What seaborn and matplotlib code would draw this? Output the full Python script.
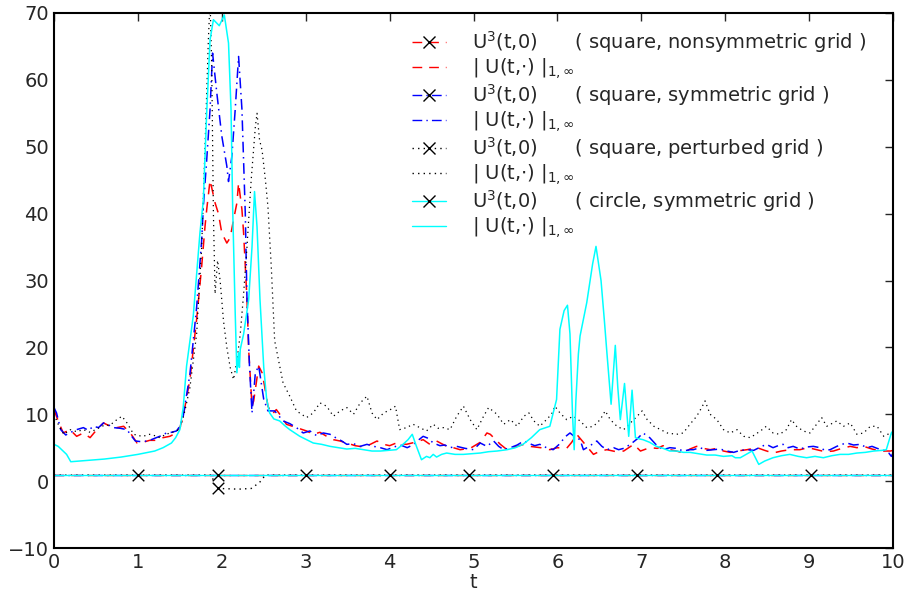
import numpy as np
import pandas as pd
import matplotlib
matplotlib.use("Agg")
import matplotlib.pyplot as plt
from matplotlib.lines import Line2D
import seaborn as sns

# |U(t,.)|_{1,inf} for each run
red_t = [0.00, 0.05, 0.11, 0.19, 0.27, 0.35, 0.43, 0.51, 0.59, 0.67, 0.75, 0.83, 0.91, 0.99,
         1.06, 1.14, 1.22, 1.30, 1.38, 1.46, 1.50, 1.54, 1.62, 1.70, 1.76, 1.80, 1.82, 1.86,
         1.92, 1.96, 2.00, 2.06, 2.10, 2.14, 2.18, 2.20, 2.24, 2.26, 2.30, 2.32, 2.36, 2.38,
         2.44, 2.48, 2.51, 2.55, 2.60, 2.65, 2.72, 2.77, 2.89, 3.01, 3.09, 3.17, 3.25, 3.33,
         3.41, 3.49, 3.59, 3.69, 3.77, 3.85, 3.93, 4.00, 4.08, 4.20, 4.30, 4.40, 4.48, 4.56,
         4.68, 4.76, 4.84, 4.96, 5.08, 5.16, 5.20, 5.28, 5.32, 5.40, 5.52, 5.60, 5.67, 5.80,
         5.91, 6.00, 6.11, 6.17, 6.23, 6.35, 6.43, 6.51, 6.59, 6.70, 6.79, 6.91, 6.99, 7.10,
         7.19, 7.26, 7.34, 7.42, 7.50, 7.58, 7.66, 7.74, 7.82, 7.90, 7.98, 8.06, 8.14, 8.26,
         8.38, 8.47, 8.57, 8.67, 8.77, 8.89, 8.99, 9.09, 9.19, 9.29, 9.39, 9.49, 9.57, 9.65,
         9.75, 9.85, 9.97, 10.00]
red_v = [10.7, 9.0, 7.2, 7.7, 6.7, 7.2, 6.5, 7.7, 8.7, 8.2, 8.0, 8.2, 7.2, 5.7,
         5.8, 6.1, 6.1, 6.5, 6.7, 7.2, 8.0, 9.7, 15.2, 24.2, 32.1, 38.1, 40.6, 45.0,
         41.6, 40.0, 37.1, 35.6, 36.4, 39.1, 41.6, 44.6, 40.6, 37.1, 27.2, 19.7, 11.2, 12.0,
         17.2, 16.2, 14.2, 11.2, 10.0, 10.7, 9.5, 8.5, 8.0, 7.5, 7.0, 7.3, 6.7, 6.2,
         6.0, 5.7, 5.3, 5.1, 5.5, 6.0, 5.5, 5.3, 5.7, 5.5, 5.8, 6.2, 5.5, 6.0,
         5.2, 5.0, 4.7, 4.9, 5.8, 7.2, 7.0, 6.0, 5.5, 4.7, 5.2, 5.5, 5.2, 5.0,
         4.7, 5.0, 4.9, 5.8, 7.0, 5.2, 4.0, 4.5, 4.7, 4.4, 4.5, 5.5, 4.5, 5.0,
         4.9, 5.3, 4.7, 4.5, 4.2, 4.8, 5.2, 4.9, 4.7, 4.9, 4.5, 4.3, 4.5, 4.7,
         5.0, 4.6, 4.2, 4.5, 4.7, 4.7, 5.0, 4.7, 4.4, 4.5, 4.9, 5.2, 5.0, 5.2,
         4.8, 4.5, 4.5, 4.6]

blue_t = [0.00, 0.03, 0.08, 0.14, 0.20, 0.27, 0.35, 0.41, 0.47, 0.53, 0.59, 0.65, 0.71, 0.79,
          0.87, 0.92, 0.97, 1.04, 1.11, 1.16, 1.22, 1.28, 1.34, 1.40, 1.46, 1.50, 1.54, 1.62,
          1.70, 1.76, 1.78, 1.82, 1.86, 1.89, 1.94, 2.00, 2.06, 2.08, 2.12, 2.16, 2.20, 2.24,
          2.28, 2.30, 2.33, 2.36, 2.40, 2.44, 2.50, 2.55, 2.63, 2.73, 2.81, 2.89, 2.97, 3.05,
          3.13, 3.21, 3.29, 3.37, 3.43, 3.49, 3.57, 3.65, 3.73, 3.81, 3.89, 3.97, 4.05, 4.13,
          4.21, 4.29, 4.35, 4.40, 4.46, 4.52, 4.60, 4.66, 4.72, 4.80, 4.90, 5.00, 5.08, 5.16,
          5.24, 5.30, 5.36, 5.44, 5.52, 5.60, 5.67, 5.73, 5.79, 5.87, 5.95, 6.03, 6.09, 6.15,
          6.21, 6.27, 6.31, 6.39, 6.47, 6.53, 6.59, 6.67, 6.73, 6.79, 6.87, 6.95, 7.02, 7.10,
          7.18, 7.26, 7.34, 7.42, 7.50, 7.58, 7.62, 7.70, 7.78, 7.86, 7.94, 8.02, 8.10, 8.18,
          8.26, 8.34, 8.42, 8.49, 8.57, 8.63, 8.69, 8.75, 8.81, 8.89, 8.97, 9.05, 9.13, 9.19,
          9.25, 9.33, 9.39, 9.45, 9.53, 9.61, 9.69, 9.75, 9.81, 9.89, 9.95, 9.98, 10.00]
blue_v = [11.0, 10.2, 7.7, 6.9, 7.3, 7.7, 8.0, 7.6, 8.2, 8.0, 8.7, 8.4, 8.0, 7.9,
          7.7, 6.8, 6.0, 5.9, 6.0, 6.2, 6.5, 6.8, 7.2, 7.3, 7.5, 8.2, 9.7, 16.0,
          26.0, 36.0, 41.1, 48.0, 55.6, 64.0, 58.1, 51.6, 47.1, 44.8, 48.6, 55.6, 63.5, 55.6,
          40.0, 27.2, 17.2, 10.2, 16.2, 17.2, 12.2, 10.5, 10.5, 9.0, 8.6, 8.0, 7.2, 7.5,
          6.8, 7.2, 7.0, 6.4, 6.0, 5.5, 5.6, 5.2, 5.5, 5.2, 5.0, 4.7, 5.1, 5.4,
          5.0, 5.5, 6.2, 6.7, 6.4, 5.7, 5.3, 5.4, 5.0, 5.2, 4.9, 4.7, 5.7, 5.2,
          6.0, 5.2, 4.7, 5.0, 5.4, 6.0, 5.6, 5.3, 5.5, 5.0, 4.7, 5.6, 6.6, 7.2,
          6.6, 6.2, 4.7, 5.3, 6.0, 5.2, 4.7, 5.0, 4.7, 4.9, 5.5, 6.3, 7.2, 6.5,
          5.4, 4.7, 5.0, 4.9, 4.5, 4.7, 4.7, 5.0, 4.6, 4.7, 4.8, 4.5, 4.3, 4.6,
          4.7, 4.6, 5.1, 5.5, 5.0, 5.3, 5.5, 5.0, 5.2, 4.8, 5.1, 5.2, 5.0, 4.6,
          4.7, 5.2, 5.5, 5.7, 5.4, 5.5, 5.0, 5.2, 4.9, 4.6, 4.2, 3.7, 4.2]

black_t = [0.00, 0.06, 0.12, 0.19, 0.27, 0.35, 0.43, 0.51, 0.59, 0.67, 0.75, 0.81, 0.87, 0.95,
           1.01, 1.06, 1.14, 1.20, 1.26, 1.32, 1.38, 1.44, 1.50, 1.56, 1.62, 1.70, 1.76, 1.80,
           1.84, 1.86, 1.88, 1.90, 1.92, 1.95, 1.98, 2.02, 2.06, 2.10, 2.14, 2.18, 2.22, 2.26,
           2.30, 2.35, 2.40, 2.42, 2.45, 2.48, 2.52, 2.55, 2.59, 2.63, 2.69, 2.73, 2.77, 2.81,
           2.89, 2.95, 3.01, 3.09, 3.17, 3.25, 3.33, 3.41, 3.49, 3.57, 3.65, 3.73, 3.79, 3.85,
           3.93, 4.01, 4.07, 4.12, 4.20, 4.28, 4.36, 4.44, 4.52, 4.58, 4.64, 4.72, 4.80, 4.88,
           4.96, 5.04, 5.12, 5.18, 5.28, 5.36, 5.44, 5.52, 5.60, 5.66, 5.72, 5.79, 5.87, 5.93,
           5.97, 6.03, 6.11, 6.19, 6.27, 6.35, 6.43, 6.51, 6.57, 6.63, 6.71, 6.79, 6.87, 6.95,
           7.01, 7.07, 7.15, 7.23, 7.31, 7.42, 7.50, 7.58, 7.66, 7.72, 7.76, 7.82, 7.90, 7.98,
           8.06, 8.14, 8.22, 8.30, 8.42, 8.49, 8.57, 8.65, 8.73, 8.79, 8.85, 8.93, 9.01, 9.09,
           9.15, 9.21, 9.33, 9.41, 9.49, 9.57, 9.65, 9.73, 9.81, 9.89, 9.97, 10.00]
black_v = [10.0, 8.2, 7.0, 7.7, 7.4, 7.7, 7.3, 7.8, 8.3, 8.4, 9.2, 9.7, 8.7, 7.0,
           6.8, 6.7, 7.0, 6.8, 6.5, 6.9, 7.2, 7.4, 7.8, 10.5, 14.0, 22.0, 35.0, 50.0,
           66.0, 72.0, 62.0, 40.0, 28.0, 33.0, 30.0, 24.0, 20.0, 17.0, 15.2, 18.0, 22.0, 28.0,
           35.0, 45.0, 53.0, 55.0, 51.0, 49.5, 45.0, 41.0, 32.0, 21.0, 17.2, 14.7, 13.7, 12.7,
           10.5, 10.0, 9.5, 10.2, 11.7, 11.2, 9.7, 10.5, 11.0, 10.0, 11.7, 12.7, 10.2, 9.2,
           10.2, 10.7, 11.2, 7.7, 8.0, 8.5, 8.0, 7.5, 8.5, 7.9, 8.0, 7.7, 9.7, 11.2,
           9.2, 7.7, 9.7, 11.0, 10.0, 8.5, 9.2, 8.2, 9.7, 10.2, 9.0, 8.2, 9.2, 10.0,
           11.2, 10.2, 9.2, 9.7, 9.0, 8.0, 8.2, 9.2, 10.5, 9.2, 8.2, 7.7, 8.7, 9.7,
           10.5, 9.2, 8.2, 7.7, 7.2, 7.0, 7.2, 8.5, 9.7, 11.0, 12.0, 10.0, 9.2, 7.7,
           7.2, 7.7, 6.7, 6.5, 7.5, 8.2, 7.2, 7.0, 7.7, 9.2, 8.2, 7.5, 7.2, 8.5,
           9.5, 8.2, 9.0, 8.2, 8.7, 7.0, 7.2, 8.2, 8.2, 6.7, 7.2, 7.0]

cyan_t = [0.00, 0.05, 0.10, 0.15, 0.20, 0.40, 0.60, 0.80, 1.00, 1.20, 1.30, 1.40, 1.45, 1.50,
          1.54, 1.58, 1.66, 1.74, 1.78, 1.82, 1.86, 1.90, 1.97, 2.03, 2.08, 2.11, 2.13, 2.16,
          2.18, 2.20, 2.21, 2.22, 2.26, 2.32, 2.36, 2.39, 2.42, 2.455, 2.50, 2.535, 2.57, 2.62,
          2.69, 2.75, 2.81, 2.87, 2.93, 3.01, 3.09, 3.19, 3.29, 3.39, 3.49, 3.59, 3.69, 3.79,
          3.89, 3.99, 4.08, 4.16, 4.22, 4.27, 4.32, 4.38, 4.44, 4.48, 4.52, 4.56, 4.62, 4.68,
          4.78, 4.88, 4.98, 5.08, 5.18, 5.28, 5.40, 5.50, 5.59, 5.69, 5.79, 5.91, 5.99, 6.03,
          6.08, 6.12, 6.15, 6.18, 6.20, 6.22, 6.25, 6.27, 6.35, 6.42, 6.46, 6.52, 6.56, 6.59,
          6.64, 6.66, 6.69, 6.72, 6.75, 6.80, 6.85, 6.89, 6.93, 6.98, 7.02, 7.10, 7.18, 7.26,
          7.34, 7.42, 7.50, 7.58, 7.68, 7.78, 7.88, 7.98, 8.08, 8.12, 8.18, 8.25, 8.32, 8.36,
          8.40, 8.47, 8.57, 8.67, 8.77, 8.87, 8.97, 9.07, 9.17, 9.27, 9.37, 9.47, 9.57, 9.67,
          9.77, 9.87, 9.92, 9.98, 10.00]
cyan_v = [5.5, 5.2, 4.6, 4.0, 2.9, 3.1, 3.3, 3.6, 4.0, 4.5, 5.0, 5.7, 6.5, 7.7,
          11.0, 17.2, 24.7, 37.2, 42.0, 55.0, 66.0, 69.0, 68.1, 69.7, 65.5, 55.6, 40.6, 25.0,
          16.2, 19.2, 17.0, 19.7, 22.0, 27.1, 35.0, 43.3, 38.0, 27.2, 17.0, 12.2, 10.2, 9.3,
          9.0, 8.3, 7.7, 7.2, 6.7, 6.2, 5.7, 5.5, 5.2, 5.0, 4.8, 4.9, 4.7, 4.5,
          4.5, 4.6, 4.7, 5.5, 6.2, 7.0, 5.2, 3.2, 3.7, 3.5, 4.0, 3.6, 4.0, 4.2,
          4.0, 4.0, 4.1, 4.2, 4.4, 4.5, 4.7, 5.0, 5.5, 6.5, 7.7, 8.2, 12.2, 22.7,
          25.5, 26.3, 22.0, 10.0, 4.7, 12.0, 19.0, 21.7, 26.7, 32.5, 35.1, 30.0, 24.0, 19.2,
          11.5, 15.0, 20.3, 14.0, 9.2, 14.6, 6.7, 13.6, 6.5, 6.3, 6.2, 5.8, 5.2, 4.9,
          4.5, 4.5, 4.3, 4.3, 4.1, 3.9, 3.9, 3.7, 3.8, 3.5, 3.5, 4.0, 4.5, 3.5,
          2.5, 3.0, 3.5, 3.8, 4.0, 3.7, 3.5, 3.7, 3.5, 3.8, 4.0, 4.0, 4.2, 4.3,
          4.5, 4.6, 4.7, 7.2, 7.5]

# U^3(t,0): flat near 1, the perturbed run dips just after t=2
u3_t = [0.0, 10.0]
u3_v = [0.9, 0.9]
u3p_t = [0.0, 1.88, 1.92, 1.97, 2.20, 2.35, 2.45, 2.52, 10.0]
u3p_v = [0.9, 0.9, -0.8, -1.1, -1.2, -1.1, -0.2, 0.9, 0.9]
mark_t = [1.0, 1.95, 3.0, 4.0, 4.95, 5.95, 6.95, 7.9, 9.02, 1.95]
mark_v = [0.9, 0.9, 0.9, 0.9, 0.9, 0.9, 0.9, 0.9, 0.9, -1.1]

runs = ["square, nonsymmetric grid", "square, symmetric grid",
        "square, perturbed grid", "circle, symmetric grid"]
colors = ["red", "blue", "black", "cyan"]
styles = [(0, (7, 5)), (0, (7, 3, 1, 3)), (0, (1, 3)), "-"]

sns.set_style("white")
plt.rcParams["font.family"] = ["DejaVu Sans"]

fig = plt.figure(figsize=(9.07, 5.94), dpi=100)
ax = fig.add_axes([54 / 907, 46 / 594, 839 / 907, 535 / 594])

series = [(red_t, red_v), (blue_t, blue_v), (black_t, black_v), (cyan_t, cyan_v)]
for i, (t, v) in enumerate(series):
    # U^3 line first, then the norm
    if i == 2:
        sns.lineplot(x=u3p_t, y=u3p_v, color=colors[i], ls=styles[i], lw=1, sort=False, ax=ax)
    else:
        sns.lineplot(x=u3_t, y=u3_v, color=colors[i], ls=styles[i], lw=1, sort=False, ax=ax)
    sns.lineplot(x=t, y=v, color=colors[i], ls=styles[i], lw=1.1 if i != 2 else 0.9,
                 sort=False, ax=ax)

sns.scatterplot(x=mark_t, y=mark_v, marker="x", color="black", s=70, linewidth=1, ax=ax, zorder=5)

ax.set_xlim(0, 10)
ax.set_ylim(-10, 70)
ax.set_xticks(range(0, 11))
ax.set_yticks(range(-10, 71, 10))
ax.set_xlabel("t", fontsize=14, labelpad=1)
ax.tick_params(direction="in", length=6, width=1, labelsize=14, top=True, right=True)
for s in ax.spines.values():
    s.set_color("black")
    s.set_linewidth(1.5)

handles = []
labels = []
for i, run in enumerate(runs):
    handles.append(Line2D([], [], color=colors[i], ls=styles[i], lw=1, marker="x",
                          mec="black", mfc="black", ms=9))
    labels.append(r"U$^3$(t,0)      ( " + run + " )")
    handles.append(Line2D([], [], color=colors[i], ls=styles[i], lw=1))
    labels.append(r"| U(t,$\cdot$) |$_{1,\infty}$")

ax.legend(handles, labels, loc="upper left", bbox_to_anchor=(0.42, 0.98), frameon=False,
          fontsize=14, handlelength=1.75, handletextpad=1.3, labelspacing=0.06,
          borderaxespad=0, borderpad=0.3)

fig.savefig("out.png", dpi=100)
